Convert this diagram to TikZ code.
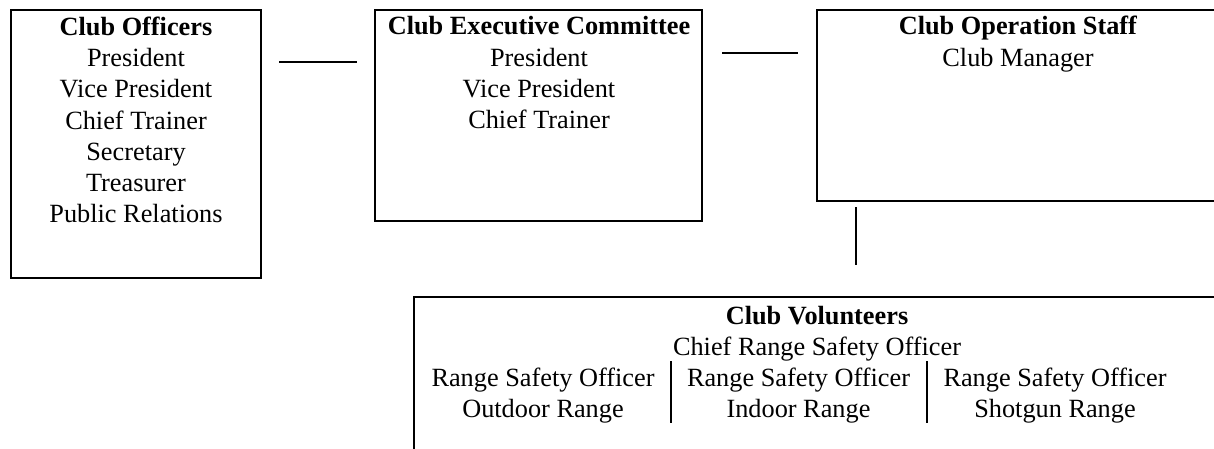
\documentclass[tikz,border=0pt]{standalone}
\usepackage{fontspec}
\setmainfont{Liberation Serif}
\begin{document}
\begin{tikzpicture}[x=1pt,y=-1pt,
  boxst/.style={draw=black, line width=1.6pt, inner sep=0pt},
  txt/.style={inner sep=0pt, align=center, anchor=base, font=\fontsize{26.3}{31.1}\selectfont},
  link/.style={draw=black, line width=1.5pt},
  divider/.style={draw=black, line width=1.5pt}]
\path[use as bounding box, clip] (0,0) rectangle (1214,449);
\fill[white] (0,0) rectangle (1214,449);

% boxes
\node[boxst, minimum width=250pt, minimum height=268pt] (officers) at (136,144) {};
\node[boxst, minimum width=327pt, minimum height=211pt] (exec) at (538.5,115.5) {};
\node[boxst, minimum width=403pt, minimum height=191pt] (ops) at (1018.5,105.5) {};
\node[boxst, minimum width=808pt, minimum height=170pt] (vol) at (818,382) {};

% texts (anchor = baseline of the last line)
\node[txt] (officersT) at (136,222.3) {\textbf{Club Officers}\\President\\Vice President\\Chief Trainer\\Secretary\\Treasurer\\Public Relations};
\node[txt] (execT) at (539,128.3) {\textbf{Club Executive Committee}\\President\\Vice President\\Chief Trainer};
\node[txt] (opsT) at (1018,66.1) {\textbf{Club Operation Staff}\\Club Manager};
\node[txt] (volT) at (817,355.6) {\textbf{Club Volunteers}\\Chief Range Safety Officer};
\node[txt] (col1) at (543,417.8) {Range Safety Officer\\Outdoor Range};
\node[txt] (col2) at (798.5,417.8) {Range Safety Officer\\Indoor Range};
\node[txt] (col3) at (1055,417.8) {Range Safety Officer\\Shotgun Range};

% connectors
\coordinate (l1a) at (279,62);
\coordinate (l1b) at (357,62);
\coordinate (l2a) at (722,53);
\coordinate (l2b) at (798,53);
\coordinate (l3a) at (856,207);
\coordinate (l3b) at (856,265);
\draw[link] (l1a) -- (l1b);
\draw[link] (l2a) -- (l2b);
\draw[link] (l3a) -- (l3b);

% dividers
\coordinate (d1a) at (671,361);
\coordinate (d1b) at (671,423);
\coordinate (d2a) at (927,361);
\coordinate (d2b) at (927,423);
\draw[divider] (d1a) -- (d1b);
\draw[divider] (d2a) -- (d2b);
\end{tikzpicture}
\end{document}
